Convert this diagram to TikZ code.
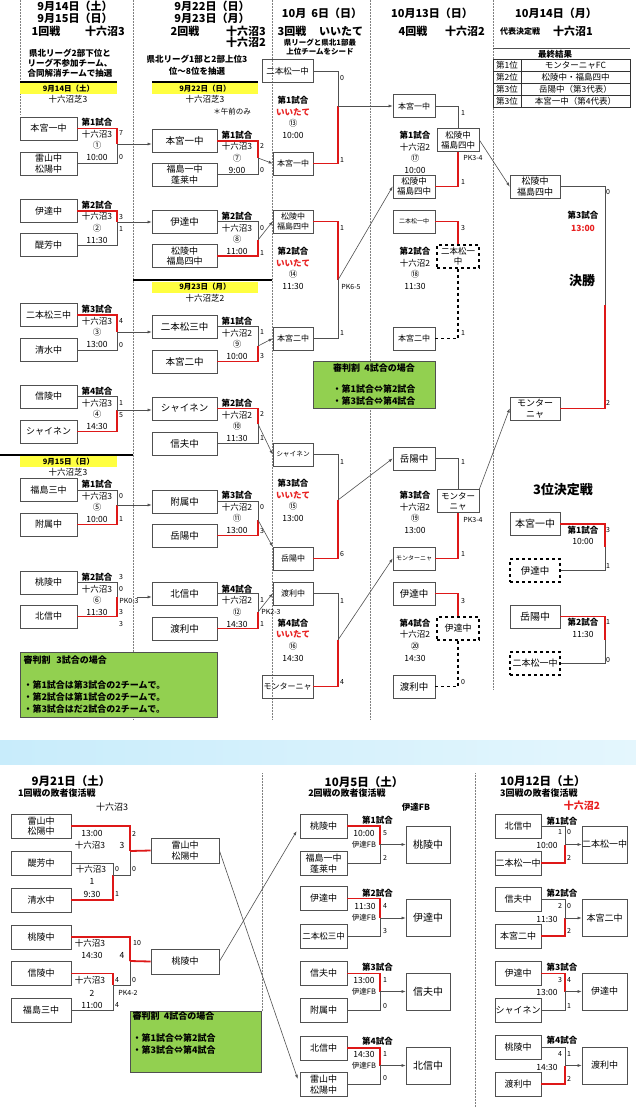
\documentclass[tikz,border=0pt]{standalone}
\usepackage{fontspec}
\setmainfont{Noto Sans CJK JP}
\usetikzlibrary{arrows.meta}
\definecolor{winred}{RGB}{222,24,24}
\definecolor{redtxt}{RGB}{232,32,32}
\definecolor{notegreen}{RGB}{146,208,80}
\definecolor{yelbox}{RGB}{255,255,64}
\definecolor{linegray}{RGB}{80,80,80}
\definecolor{bandleft}{RGB}{200,236,251}
\definecolor{bandright}{RGB}{228,246,253}
\begin{document}
\begin{tikzpicture}[x=1pt,y=-1pt,>={Latex[length=4pt,width=3pt]},
  team/.style={draw=linegray,line width=0.7pt,minimum height=23pt,inner sep=0pt,align=center,font=\fontsize{9}{10.5}\selectfont},
  t1/.style={team,minimum width=57pt},
  t2/.style={team,minimum width=65pt,font=\fontsize{9.5}{10.5}\selectfont},
  t3/.style={team,minimum width=40pt,font=\fontsize{8}{10}\selectfont},
  t4/.style={team,minimum width=42pt,font=\fontsize{8}{10}\selectfont},
  t5/.style={team,minimum width=50pt,font=\fontsize{9.5}{10.5}\selectfont},
  tA/.style={team,minimum width=60pt,minimum height=24pt},
  tAw/.style={team,minimum width=68pt,minimum height=25pt},
  tB/.style={team,minimum width=47pt,minimum height=24pt},
  tBw/.style={team,minimum width=44pt,minimum height=37pt,font=\fontsize{10}{11}\selectfont},
  tC/.style={team,minimum width=46pt,minimum height=24pt},
  tCw/.style={team,minimum width=45pt,minimum height=37pt},
  dashbox/.style={dashed,draw=black,line width=1.1pt},
  win/.style={draw=winred,line width=1.8pt},
  bline/.style={draw=linegray,line width=0.6pt},
  dline/.style={draw=black,dashed,line width=1.1pt},
  arr/.style={bline,->},
  colline/.style={draw=black!50,densely dotted,line width=0.5pt},
  hrule/.style={draw=black,line width=1.1pt},
  info/.style={inner sep=0pt,align=center,font=\fontsize{8.5}{11.7}\selectfont},
  score/.style={inner sep=0pt,font=\fontsize{7}{8}\selectfont},
  head/.style={inner sep=0pt,font=\fontsize{11}{12}\bfseries\selectfont},
  sub/.style={inner sep=0pt,align=center,font=\fontsize{8.5}{10}\bfseries\selectfont},
  yel/.style={fill=yelbox,inner sep=0pt,minimum height=11pt,font=\fontsize{7.5}{8}\bfseries\selectfont},
  cell/.style={draw=black!80,line width=0.6pt,inner sep=0pt,minimum height=12pt,font=\fontsize{8.5}{9}\selectfont},
  note/.style={draw=linegray,fill=notegreen,line width=0.6pt,inner sep=2pt,align=left,font=\fontsize{9}{12}\bfseries\selectfont}]
    \path[fill=white] (0,0) rectangle (636,1113);
    \useasboundingbox (0,0) rectangle (636,1113);

    %column rules
    \draw [colline] (20,0) to (20,115);
    \draw [colline] (133,0) to (133,720);
    \draw [colline] (272,0) to (272,720);
    \draw [colline] (370,0) to (370,720);
    \draw [colline] (493,0) to (493,690);
    \draw [hrule] (20,82) to (117,82);
    \draw [hrule] (152,82) to (258,82);
    \draw [hrule] (133,280) to (272,280);
    \draw [hrule] (0,455) to (133,455);

    %headers
    \node (h1a) at (75,6) [head]{9月14日（土）};
    \node (h1b) at (75,18) [head]{9月15日（日）};
    \node (h1c) at (46,31) [head]{1回戦};
    \node (h1d) at (105,31) [head]{十六沼3};
    \node (h1e) at (70,63) [sub]{県北リーグ2部下位と\\リーグ不参加チーム、\\合同解消チームで抽選};
    \node (h2a) at (212,6) [head]{9月22日（日）};
    \node (h2b) at (212,18) [head]{9月23日（月）};
    \node (h2c) at (185,31) [head]{2回戦};
    \node (h2d) at (246,31) [head]{十六沼3};
    \node (h2e) at (246,42) [head]{十六沼2};
    \node (h2f) at (197,65) [sub,font=\fontsize{8.5}{12}\bfseries\selectfont]{県北リーグ1部と2部上位3\\位～8位を抽選};
    \node (h3a) at (322,13) [head]{10月\ \ 6日（日）};
    \node (h3b) at (292,31) [head]{3回戦};
    \node (h3c) at (341,31) [head]{いいたて};
    \node (h3d) at (320,47.5) [sub,font=\fontsize{7.5}{9}\bfseries\selectfont]{県リーグと県北1部最\\上位チームをシード};
    \node (h4a) at (432,13) [head]{10月13日（日）};
    \node (h4b) at (413,31) [head]{4回戦};
    \node (h4c) at (465,31) [head]{十六沼2};
    \node (h5a) at (556,13) [head]{10月14日（月）};
    \node (h5b) at (520,31) [sub,font=\fontsize{8}{9}\bfseries\selectfont]{代表決定戦};
    \node (h5c) at (573,31) [head]{十六沼1};

    %day bars
    \node (y1) at (68.5,88.5) [yel,minimum width=97pt]{9月14日（土）};
    \node (y2) at (205,88.5) [yel,minimum width=106pt]{9月22日（日）};
    \node (y3) at (205,287) [yel,minimum width=106pt]{9月23日（月）};
    \node (y4) at (68.5,461.5) [yel,minimum width=97pt]{9月15日（日）};
    \node (v1) at (68,99.5) [info]{十六沼芝3};
    \node (v2) at (205,99.5) [info]{十六沼芝3};
    \node (v3) at (205,298) [info]{十六沼芝2};
    \node (v4) at (68,472.5) [info]{十六沼芝3};
    \node (v5) at (232,112) [info,font=\fontsize{7.5}{9}\selectfont]{＊午前のみ};

    %final standings
    \draw [bline] (493,48) to (630,48);
    \node (r0) at (555,54) [inner sep=0pt,font=\fontsize{8.5}{9}\bfseries\selectfont]{最終結果};
    \node (r1a) at (507,65) [cell,minimum width=28pt]{第1位};
    \node (r1b) at (575.5,65) [cell,minimum width=109pt]{モンターニャFC};
    \node (r2a) at (507,77) [cell,minimum width=28pt]{第2位};
    \node (r2b) at (575.5,77) [cell,minimum width=109pt]{松陵中・福島四中};
    \node (r3a) at (507,89) [cell,minimum width=28pt]{第3位};
    \node (r3b) at (575.5,89) [cell,minimum width=109pt]{岳陽中（第3代表）};
    \node (r4a) at (507,101) [cell,minimum width=28pt]{第3位};
    \node (r4b) at (575.5,101) [cell,minimum width=109pt]{本宮一中（第4代表）};

    %round one
    \node (A1) at (48.5,128.5) [t1]{本宮一中};
    \node (A2) at (48.5,163.5) [t1]{雷山中\\松陽中};
    \node (A3) at (48.5,211) [t1]{伊達中};
    \node (A4) at (48.5,245) [t1]{醍芳中};
    \node (A5) at (48.5,315) [t1]{二本松三中};
    \node (A6) at (48.5,350) [t1]{清水中};
    \node (A7) at (48.5,396.5) [t1]{信陵中};
    \node (A8) at (48.5,431.5) [t1]{シャイネン};
    \node (A9) at (48.5,490) [t1]{福島三中};
    \node (A10) at (48.5,524.5) [t1]{附属中};
    \node (A11) at (48.5,582.5) [t1]{桃陵中};
    \node (A12) at (48.5,616.5) [t1]{北信中};
    \node (i1) at (97,139.5) [info]{\textbf{第1試合}\\十六沼3\\①\\10:00};
    \node (i2) at (97,222) [info]{\textbf{第2試合}\\十六沼3\\②\\11:30};
    \node (i3) at (97,326.5) [info]{\textbf{第3試合}\\十六沼3\\③\\13:00};
    \node (i4) at (97,408.5) [info]{\textbf{第4試合}\\十六沼3\\④\\14:30};
    \node (i5) at (97,501.5) [info]{\textbf{第1試合}\\十六沼3\\⑤\\10:00};
    \node (i6) at (97,594.5) [info]{\textbf{第2試合}\\十六沼3\\⑥\\11:30};
    \coordinate (JA1) at (117,144);
    \coordinate (JA2) at (117,222);
    \coordinate (JA3) at (117,332);
    \coordinate (JA4) at (117,410);
    \coordinate (JA5) at (117,505);
    \coordinate (JA6) at (117,597);
    \draw [win] (A1.east) -| (JA1);
    \draw [bline] (A2.east) -| (JA1);
    \draw [win] (A3.east) -| (JA2);
    \draw [bline] (A4.east) -| (JA2);
    \draw [win] (A5.east) -| (JA3);
    \draw [bline] (A6.east) -| (JA3);
    \draw [bline] (A7.east) -| (JA4);
    \draw [win] (A8.east) -| (JA4);
    \draw [bline] (A9.east) -| (JA5);
    \draw [win] (A10.east) -| (JA5);
    \draw [bline] (A11.east) -| (JA6);
    \draw [win] (A12.east) -| (JA6);
    \node (s1a) at (121,133) [score]{7};
    \node (s1b) at (121,157) [score]{0};
    \node (s2a) at (121,217) [score]{3};
    \node (s2b) at (121,229) [score]{1};
    \node (s3a) at (121,321) [score]{4};
    \node (s3b) at (121,345) [score]{0};
    \node (s4a) at (121,403) [score]{1};
    \node (s4b) at (121,415) [score]{5};
    \node (s5a) at (121,496) [score]{0};
    \node (s5b) at (121,519) [score]{1};
    \node (s6a) at (121,577) [score]{3};
    \node (s6b) at (121,589) [score]{0};
    \node (s6c) at (129,601) [score]{PK0-3};
    \node (s6d) at (121,612) [score]{3};
    \node (s6e) at (121,624) [score]{3};

    %round two
    \node (B1) at (184.5,141) [t2]{本宮一中};
    \node (B2) at (184.5,174.5) [t2,font=\fontsize{9}{10.5}\selectfont]{福島一中\\蓬莱中};
    \node (B3) at (184.5,221.5) [t2]{伊達中};
    \node (B4) at (184.5,256) [t2,font=\fontsize{9}{10.5}\selectfont]{松陵中\\福島四中};
    \node (B5) at (184.5,326.5) [t2]{二本松三中};
    \node (B6) at (184.5,361.5) [t2]{本宮二中};
    \node (B7) at (184.5,408.5) [t2]{シャイネン};
    \node (B8) at (184.5,443.5) [t2]{信夫中};
    \node (B9) at (184.5,501.5) [t2]{附属中};
    \node (B10) at (184.5,535.5) [t2]{岳陽中};
    \node (B11) at (184.5,593.5) [t2]{北信中};
    \node (B12) at (184.5,628.5) [t2]{渡利中};
    \draw [arr] (JA1) to (JA1 -| B1.west);
    \draw [arr] (JA2) to (JA2 -| B3.west);
    \draw [arr] (JA3) to (JA3 -| B5.west);
    \draw [arr] (JA4) to (JA4 -| B7.west);
    \draw [arr] (JA5) to (JA5 -| B9.west);
    \draw [arr,shorten <=20pt] (JA6) to (JA6 -| B11.west);
    \node (i7) at (237,152) [info]{\textbf{第1試合}\\十六沼3\\⑦\\9:00};
    \node (i8) at (237,233.5) [info]{\textbf{第2試合}\\十六沼3\\⑧\\11:00};
    \node (i9) at (237,338.5) [info]{\textbf{第1試合}\\十六沼2\\⑨\\10:00};
    \node (i10) at (237,420.5) [info]{\textbf{第2試合}\\十六沼2\\⑩\\11:30};
    \node (i11) at (237,512.5) [info]{\textbf{第3試合}\\十六沼2\\⑪\\13:00};
    \node (i12) at (237,606) [info]{\textbf{第4試合}\\十六沼2\\⑫\\14:30};
    \coordinate (JB1) at (258,158);
    \coordinate (JB2) at (258,240);
    \coordinate (JB3) at (258,346);
    \coordinate (JB4) at (258,424);
    \coordinate (JB5) at (258,520);
    \coordinate (JB6) at (258,612);
    \draw [win] (B1.east) -| (JB1);
    \draw [bline] (B2.east) -| (JB1);
    \draw [bline] (B3.east) -| (JB2);
    \draw [win] (B4.east) -| (JB2);
    \draw [bline] (B5.east) -| (JB3);
    \draw [win] (B6.east) -| (JB3);
    \draw [win] (B7.east) -| (JB4);
    \draw [bline] (B8.east) -| (JB4);
    \draw [bline] (B9.east) -| (JB5);
    \draw [win] (B10.east) -| (JB5);
    \draw [bline] (B11.east) -| (JB6);
    \draw [win] (B12.east) -| (JB6);
    \node (s7a) at (262,146) [score]{2};
    \node (s7b) at (262,170) [score]{0};
    \node (s8a) at (262,228) [score]{0};
    \node (s8b) at (262,253) [score]{1};
    \node (s9a) at (262,332) [score]{1};
    \node (s9b) at (262,356) [score]{3};
    \node (s10a) at (262,414) [score]{2};
    \node (s10b) at (262,438) [score]{1};
    \node (s11a) at (262,507) [score]{0};
    \node (s11b) at (262,531) [score]{3};
    \node (s12a) at (262,600) [score]{1};
    \node (s12b) at (262,624) [score]{1};
    \node (s12c) at (271,612) [score]{PK2-3};

    %round three
    \node (C1) at (287.5,71) [t3,minimum width=51pt,font=\fontsize{8.5}{10}\selectfont]{二本松一中};
    \node (C2) at (293,163.5) [t3]{本宮一中};
    \node (C3) at (293,221.5) [t3]{松陵中\\福島四中};
    \node (C4) at (293,338.5) [t3]{本宮二中};
    \node (C5) at (293,454.5) [t3,font=\fontsize{6.7}{8}\selectfont]{シャイネン};
    \node (C6) at (293,558.5) [t3]{岳陽中};
    \node (C7) at (293,593.5) [t3]{渡利中};
    \node (C8) at (287.5,686.5) [t3,minimum width=51pt]{モンターニャ};
    \draw [arr] (JB1) to (C2.west);
    \draw [arr] (JB2) to (C3.west);
    \draw [arr] (JB3) to (C4.west);
    \draw [arr] (JB4) to (C5.west);
    \draw [arr] (JB5) to (C6.north west);
    \draw [arr] (JB6) to (C7.west);
    \node (i13) at (293,117.5) [info]{\textbf{第1試合}\\{\color{redtxt}\textbf{いいたて}}\\⑬\\10:00};
    \node (i14) at (293,268.5) [info]{\textbf{第2試合}\\{\color{redtxt}\textbf{いいたて}}\\⑭\\11:30};
    \node (i15) at (293,500.5) [info]{\textbf{第3試合}\\{\color{redtxt}\textbf{いいたて}}\\⑮\\13:00};
    \node (i16) at (293,640) [info]{\textbf{第4試合}\\{\color{redtxt}\textbf{いいたて}}\\⑯\\14:30};
    \coordinate (JC1) at (338,106);
    \coordinate (JC2) at (338,280);
    \coordinate (JC3) at (338,500);
    \coordinate (JC4) at (338,640);
    \draw [bline] (C1.east) -| (JC1);
    \draw [win] (C2.east) -| (JC1);
    \draw [win] (C3.east) -| (JC2);
    \draw [bline] (C4.east) -| (JC2);
    \draw [bline] (C5.east) -| (JC3);
    \draw [win] (C6.east) -| (JC3);
    \draw [bline] (C7.east) -| (JC4);
    \draw [win] (C8.east) -| (JC4);
    \node (s13a) at (342,78) [score]{0};
    \node (s13b) at (342,160) [score]{1};
    \node (s14a) at (342,228) [score]{1};
    \node (s14b) at (342,333) [score]{1};
    \node (s14c) at (351,287) [score]{PK6-5};
    \node (s15a) at (342,462) [score]{1};
    \node (s15b) at (342,554) [score]{6};
    \node (s16a) at (342,601) [score]{1};
    \node (s16b) at (342,682) [score]{4};
    \node (g2) at (374,384.5) [note,align=center,minimum width=122pt,minimum height=47pt]{審判割\ \ 4試合の場合\\[9pt]・第1試合⇔第2試合\\・第3試合⇔第4試合};

    %round four
    \node (D1) at (414,106) [t4]{本宮一中};
    \node (D2) at (414,186.5) [t4,font=\fontsize{8.5}{10}\selectfont]{松陵中\\福島四中};
    \node (D3) at (414,221.5) [t4,font=\fontsize{6}{7}\selectfont]{二本松一中};
    \node (D4) at (414,338.5) [t4]{本宮二中};
    \node (D5) at (414,458.5) [t4,font=\fontsize{9.5}{10}\selectfont]{岳陽中};
    \node (D6) at (414,558.5) [t4,font=\fontsize{6}{7}\selectfont]{モンターニャ};
    \node (D7) at (414,593.5) [t4,font=\fontsize{9.5}{10}\selectfont]{伊達中};
    \node (D8) at (414,686.5) [t4,font=\fontsize{9.5}{10}\selectfont]{渡利中};
    \node (DW1) at (458,140) [t4,font=\fontsize{8.5}{10}\selectfont]{松陵中\\福島四中};
    \node (DD1) at (458,256.5) [t4,dashbox,font=\fontsize{8.5}{10}\selectfont]{二本松一\\中};
    \node (DW2) at (458,501) [t4,font=\fontsize{8.5}{10}\selectfont]{モンター\\ニャ};
    \node (DD2) at (458,628.5) [t4,dashbox,font=\fontsize{9}{10}\selectfont]{伊達中};
    \draw [arr] (JC1) to (JC1 -| D1.west);
    \draw [arr] (JC2) to (D2.west);
    \draw [arr] (JC3) to (D5.west);
    \draw [arr] (JC4) to (D6.west);
    \node (i17) at (415,152.5) [info]{\textbf{第1試合}\\十六沼2\\⑰\\10:00};
    \node (i18) at (415,268.5) [info]{\textbf{第2試合}\\十六沼2\\⑱\\11:30};
    \node (i19) at (415,512.5) [info]{\textbf{第3試合}\\十六沼2\\⑲\\13:00};
    \node (i20) at (415,640) [info]{\textbf{第4試合}\\十六沼2\\⑳\\14:30};
    \draw [bline] (D1.east) -| (DW1.north);
    \draw [win] (D2.east) -| (DW1.south);
    \draw [win] (D3.east) -| (DD1.north);
    \draw [dline] (DD1.south) |- (D4.east);
    \draw [bline] (D5.east) -| (DW2.north);
    \draw [win] (D6.east) -| (DW2.south);
    \draw [win] (D7.east) -| (DD2.north);
    \draw [dline] (DD2.south) |- (D8.east);
    \node (s17a) at (463,113) [score]{1};
    \node (s17b) at (463,182) [score]{1};
    \node (s17c) at (473,158) [score]{PK3-4};
    \node (s18a) at (463,228) [score]{3};
    \node (s18b) at (463,333) [score]{1};
    \node (s19a) at (463,462) [score]{1};
    \node (s19b) at (463,554) [score]{1};
    \node (s19c) at (473,520) [score]{PK3-4};
    \node (s20a) at (463,601) [score]{3};
    \node (s20b) at (463,682) [score]{0};

    %final
    \node (E1) at (535,186.5) [t5,font=\fontsize{9}{10.5}\selectfont]{松陵中\\福島四中};
    \node (E2) at (535,408.5) [t5,font=\fontsize{9}{10.5}\selectfont]{モンター\\ニャ};
    \draw [arr] (DW1.east) to (E1.west);
    \draw [arr] (DW2.north east) to (E2.west);
    \coordinate (JE1) at (605,305);
    \draw [bline] (E1.east) -| (JE1);
    \draw [win] (E2.east) -| (JE1);
    \node (s21a) at (608,192) [score]{0};
    \node (s21b) at (608,403) [score]{2};
    \node (f1) at (583,215) [info]{\textbf{第3試合}};
    \node (f2) at (583,228) [info]{\color{redtxt}\textbf{13:00}};
    \node (f3) at (582,281) [inner sep=0pt,font=\fontsize{13}{14}\bfseries\selectfont]{決勝};

    %third place
    \node (f4) at (563,490) [inner sep=0pt,font=\fontsize{13}{14}\bfseries\selectfont]{3位決定戦};
    \node (E3) at (535,524) [t5,font=\fontsize{10}{11}\selectfont]{本宮一中};
    \node (E4) at (535,570.5) [t5,dashbox]{伊達中};
    \node (E5) at (535,616.5) [t5,font=\fontsize{10}{11}\selectfont]{岳陽中};
    \node (E6) at (535,663.5) [t5,dashbox,font=\fontsize{9}{10}\selectfont]{二本松一中};
    \coordinate (JE2) at (605,547);
    \coordinate (JE3) at (605,640);
    \draw [win] (E3.east) -| (JE2);
    \draw [bline] (E4.east) -| (JE2);
    \draw [win] (E5.east) -| (JE3);
    \draw [bline] (E6.east) -| (JE3);
    \node (f5) at (583,530) [info]{\textbf{第1試合}};
    \node (f6) at (583,541) [info]{10:00};
    \node (f7) at (583,622) [info]{\textbf{第2試合}};
    \node (f8) at (583,634) [info]{11:30};
    \node (s22a) at (608,530) [score]{3};
    \node (s22b) at (608,566) [score]{1};
    \node (s23a) at (608,622) [score]{1};
    \node (s23b) at (608,660) [score]{0};

    %referee note
    \node (g1) at (118.5,684.5) [note,minimum width=197pt,minimum height=65pt,text width=190pt]{審判割\ \ 3試合の場合\\[13pt]・第1試合は第3試合の2チームで。\\・第2試合は第1試合の2チームで。\\・第3試合はだ2試合の2チームで。};

    %band
    \shade [left color=bandleft,right color=bandright] (0,740) rectangle (636,764);

    %repechage headers
    \draw [colline] (262,773) to (262,1011);
    \draw [colline] (475,773) to (475,1107);
    \node (ha1) at (71,781) [head,font=\fontsize{11.5}{12}\bfseries\selectfont]{9月21日（土）};
    \node (ha2) at (18,793) [sub,anchor=west,font=\fontsize{9}{10}\bfseries\selectfont]{1回戦の敗者復活戦};
    \node (ha3) at (112,807) [info,font=\fontsize{9}{10}\selectfont]{十六沼3};
    \node (hb1) at (364,782) [head,font=\fontsize{11.5}{12}\bfseries\selectfont]{10月5日（土）};
    \node (hb2) at (347,793) [sub,font=\fontsize{9}{10}\bfseries\selectfont]{2回戦の敗者復活戦};
    \node (hb3) at (416,807) [info,font=\fontsize{8.5}{10}\bfseries\selectfont]{伊達FB};
    \node (hc1) at (500,781) [head,anchor=west,font=\fontsize{11.5}{12}\bfseries\selectfont]{10月12日（土）};
    \node (hc2) at (500,793) [sub,anchor=west,font=\fontsize{9}{10}\bfseries\selectfont]{3回戦の敗者復活戦};
    \node (hc3) at (582,806) [info,font=\fontsize{10}{11}\bfseries\selectfont,text=redtxt]{十六沼2};

    %repechage one
    \node (P1) at (41,826) [tA]{雷山中\\松陽中};
    \node (P2) at (41,863) [tA]{醍芳中};
    \node (P3) at (41,900) [tA]{清水中};
    \node (P4) at (41,937) [tA]{桃陵中};
    \node (P5) at (41,973.5) [tA]{信陵中};
    \node (P6) at (41,1010.5) [tA]{福島三中};
    \node (PW1) at (185,850.5) [tAw]{雷山中\\松陽中};
    \node (PW2) at (185,961.5) [tAw]{桃陵中};
    \coordinate (JP1) at (130,851);
    \coordinate (JP2) at (113,875);
    \coordinate (JP3) at (130,961);
    \coordinate (JP4) at (113,985);
    \draw [bline] (P2.east) -| (JP2);
    \draw [win] (P3.east) -| (JP2);
    \draw [bline] (JP2) -| (JP1);
    \draw [win] (P1.east) -| (JP1);
    \draw [win] (JP1) to (PW1.west);
    \draw [bline] (P6.east) -| (JP4);
    \draw [win] (P5.east) -| (JP4);
    \draw [bline] (JP4) -| (JP3);
    \draw [win] (P4.east) -| (JP3);
    \draw [win] (JP3) to (PW2.west);
    \node (a1) at (92,833) [info]{13:00};
    \node (a2) at (90,845) [info]{十六沼3};
    \node (a3) at (122,845) [info]{3};
    \node (a4) at (134,834) [score]{2};
    \node (a5) at (91,869) [info]{十六沼3};
    \node (a6) at (117,869) [score]{0};
    \node (a7) at (134,869) [score]{0};
    \node (a8) at (92,881) [info]{1};
    \node (a9) at (92,894) [info]{9:30};
    \node (a10) at (117,894) [score]{1};
    \node (a11) at (90,943) [info]{十六沼3};
    \node (a12) at (137,943) [score]{10};
    \node (a13) at (92,955) [info]{14:30};
    \node (a14) at (122,955) [info]{4};
    \node (a15) at (90,980) [info]{十六沼3};
    \node (a16) at (117,980) [score]{4};
    \node (a17) at (134,980) [score]{0};
    \node (a18) at (92,993) [info]{2};
    \node (a19) at (128,993) [score]{PK4-2};
    \node (a20) at (92,1005) [info]{11:00};
    \node (a21) at (117,1005) [score]{4};
    \node (g3) at (195.5,1041.5) [note,minimum width=131pt,minimum height=61pt]{};
    \node (g3t) at (132.5,1012) [anchor=north west,inner sep=0pt,align=left,font=\fontsize{9}{12.5}\bfseries\selectfont]{審判割\ \ 4試合の場合\\[9pt]・第1試合⇔第2試合\\・第3試合⇔第4試合};

    %repechage two
    \node (Q1) at (323.5,826) [tB]{桃陵中};
    \node (Q2) at (323.5,863.5) [tB]{福島一中\\蓬莱中};
    \node (Q3) at (323.5,898.5) [tB]{伊達中};
    \node (Q4) at (323.5,936) [tB,font=\fontsize{8.5}{10}\selectfont]{二本松三中};
    \node (Q5) at (323.5,973.5) [tB]{信夫中};
    \node (Q6) at (323.5,1010) [tB]{附属中};
    \node (Q7) at (323.5,1048) [tB]{北信中};
    \node (Q8) at (323.5,1084.5) [tB]{雷山中\\松陽中};
    \node (QW1) at (428,844.5) [tBw]{桃陵中};
    \node (QW2) at (428,918) [tBw]{伊達中};
    \node (QW3) at (428,991.5) [tBw]{信夫中};
    \node (QW4) at (428,1065.5) [tBw]{北信中};
    \draw [arr,shorten >=6pt] (PW1.east) to (Q8.west);
    \draw [arr,shorten >=6pt] (PW2.east) to (Q1.west);
    \coordinate (JQ1) at (380,844.5);
    \coordinate (JQ2) at (380,918);
    \coordinate (JQ3) at (380,991.5);
    \coordinate (JQ4) at (380,1065.5);
    \draw [win] (Q1.east) -| (JQ1);
    \draw [bline] (Q2.east) -| (JQ1);
    \draw [win] (Q3.east) -| (JQ2);
    \draw [bline] (Q4.east) -| (JQ2);
    \draw [win] (Q5.east) -| (JQ3);
    \draw [bline] (Q6.east) -| (JQ3);
    \draw [win] (Q7.east) -| (JQ4);
    \draw [bline] (Q8.east) -| (JQ4);
    \draw [arr] (JQ1) to (QW1.west);
    \draw [arr] (JQ2) to (QW2.west);
    \draw [arr] (JQ3) to (QW3.west);
    \draw [arr] (JQ4) to (QW4.west);
    \node (b1) at (377.5,820) [info]{\textbf{第1試合}};
    \node (b2) at (364,833) [info]{10:00};
    \node (b3) at (385,833) [score]{5};
    \node (b4) at (364,845) [info,font=\fontsize{7.5}{8}\selectfont]{伊達FB};
    \node (b5) at (385,858) [score]{2};
    \node (b6) at (377.5,893) [info]{\textbf{第2試合}};
    \node (b7) at (365,906) [info]{11:30};
    \node (b8) at (385,906) [score]{4};
    \node (b9) at (364,918) [info,font=\fontsize{7.5}{8}\selectfont]{伊達FB};
    \node (b10) at (385,931) [score]{3};
    \node (b11) at (377.5,967) [info]{\textbf{第3試合}};
    \node (b12) at (364,980) [info]{13:00};
    \node (b13) at (385,980) [score]{1};
    \node (b14) at (364,992) [info,font=\fontsize{7.5}{8}\selectfont]{伊達FB};
    \node (b15) at (385,1006) [score]{0};
    \node (b16) at (377.5,1041) [info]{\textbf{第4試合}};
    \node (b17) at (364,1054) [info]{14:30};
    \node (b18) at (385,1054) [score]{1};
    \node (b19) at (364,1066) [info,font=\fontsize{7.5}{8}\selectfont]{伊達FB};
    \node (b20) at (385,1078) [score]{0};

    %repechage three
    \node (S1) at (518,826.5) [tC]{北信中};
    \node (S2) at (518,863) [tC]{二本松一中};
    \node (S3) at (518,899.5) [tC]{信夫中};
    \node (S4) at (518,936) [tC]{本宮二中};
    \node (S5) at (518,973.5) [tC]{伊達中};
    \node (S6) at (518,1010) [tC]{シャイネン};
    \node (S7) at (518,1047.5) [tC]{桃陵中};
    \node (S8) at (518,1084) [tC]{渡利中};
    \node (SW1) at (604.5,844.5) [tCw]{二本松一中};
    \node (SW2) at (604.5,918) [tCw]{本宮二中};
    \node (SW3) at (604.5,991.5) [tCw]{伊達中};
    \node (SW4) at (604.5,1065.5) [tCw]{渡利中};
    \coordinate (JS1) at (565,844.5);
    \coordinate (JS2) at (565,918);
    \coordinate (JS3) at (565,991.5);
    \coordinate (JS4) at (565,1065.5);
    \draw [bline] (S1.east) -| (JS1);
    \draw [win] (S2.east) -| (JS1);
    \draw [bline] (S3.east) -| (JS2);
    \draw [win] (S4.east) -| (JS2);
    \draw [win] (S5.east) -| (JS3);
    \draw [bline] (S6.east) -| (JS3);
    \draw [bline] (S7.east) -| (JS4);
    \draw [win] (S8.east) -| (JS4);
    \draw [arr] (JS1) to (SW1.west);
    \draw [arr] (JS2) to (SW2.west);
    \draw [arr] (JS3) to (SW3.west);
    \draw [arr] (JS4) to (SW4.west);
    \node (c1) at (562,821) [info]{\textbf{第1試合}};
    \node (c2) at (560,832) [score]{1};
    \node (c3) at (569,832) [score]{0};
    \node (c4) at (547,845) [info]{10:00};
    \node (c5) at (569,858) [score]{2};
    \node (c6) at (562,893) [info]{\textbf{第2試合}};
    \node (c7) at (560,906) [score]{2};
    \node (c8) at (569,906) [score]{0};
    \node (c9) at (547,919) [info]{11:30};
    \node (c10) at (569,931) [score]{2};
    \node (c11) at (562,967) [info]{\textbf{第3試合}};
    \node (c12) at (560,980) [score]{3};
    \node (c13) at (569,980) [score]{4};
    \node (c14) at (547,992) [info]{13:00};
    \node (c15) at (569,1006) [score]{1};
    \node (c16) at (562,1040) [info]{\textbf{第4試合}};
    \node (c17) at (560,1054) [score]{4};
    \node (c18) at (569,1054) [score]{1};
    \node (c19) at (547,1067) [info]{14:30};
    \node (c20) at (569,1079) [score]{2};
\end{tikzpicture}
\end{document}
